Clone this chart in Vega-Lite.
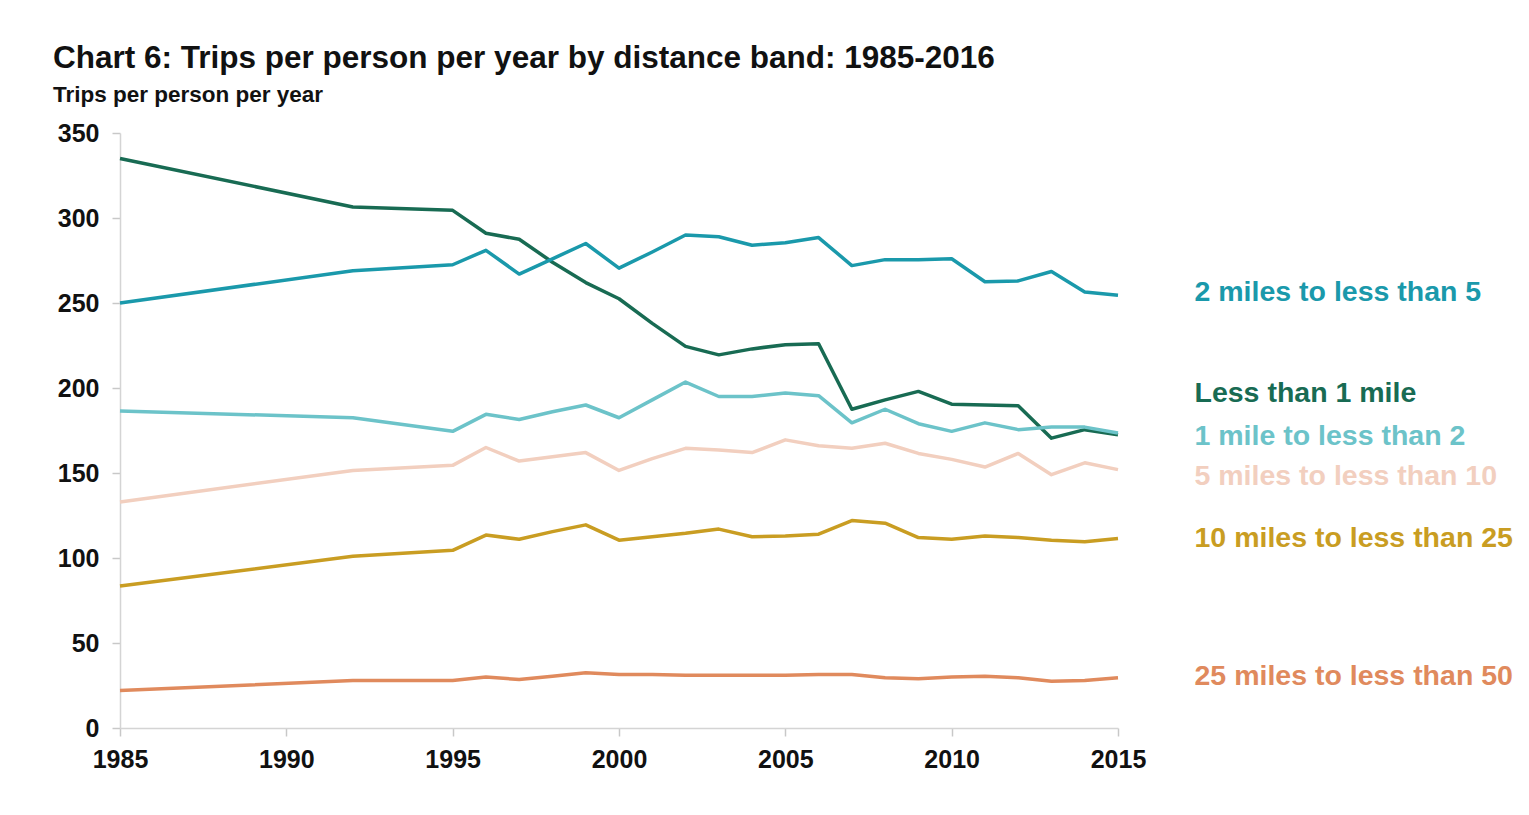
{
  "$schema": "https://vega.github.io/schema/vega-lite/v6.json",
  "autosize": {"type": "none"},
  "width": 998,
  "height": 595,
  "padding": {"left": 120, "top": 133, "right": 411, "bottom": 87},
  "background": "white",
  "title": {
    "text": "Chart 6: Trips per person per year by distance band: 1985-2016",
    "subtitle": "Trips per person per year",
    "anchor": "start",
    "frame": "group",
    "dx": -67,
    "offset": 15,
    "font": "Liberation Sans",
    "fontSize": 31.5,
    "fontWeight": "bold",
    "color": "#111111",
    "subtitleFont": "Liberation Sans",
    "subtitleFontSize": 22.5,
    "subtitleFontWeight": "bold",
    "subtitleColor": "#111111",
    "subtitlePadding": 9
  },
  "datasets": {
    "trips": [
      {"year": 1985, "band": "Less than 1 mile", "trips": 335},
      {"year": 1992, "band": "Less than 1 mile", "trips": 306.5},
      {"year": 1995, "band": "Less than 1 mile", "trips": 304.5},
      {"year": 1996, "band": "Less than 1 mile", "trips": 291},
      {"year": 1997, "band": "Less than 1 mile", "trips": 287.5},
      {"year": 1998, "band": "Less than 1 mile", "trips": 274},
      {"year": 1999, "band": "Less than 1 mile", "trips": 262},
      {"year": 2000, "band": "Less than 1 mile", "trips": 252.5},
      {"year": 2001, "band": "Less than 1 mile", "trips": 238},
      {"year": 2002, "band": "Less than 1 mile", "trips": 224.5},
      {"year": 2003, "band": "Less than 1 mile", "trips": 219.5},
      {"year": 2004, "band": "Less than 1 mile", "trips": 223},
      {"year": 2005, "band": "Less than 1 mile", "trips": 225.5},
      {"year": 2006, "band": "Less than 1 mile", "trips": 226},
      {"year": 2007, "band": "Less than 1 mile", "trips": 187.5},
      {"year": 2008, "band": "Less than 1 mile", "trips": 193},
      {"year": 2009, "band": "Less than 1 mile", "trips": 198},
      {"year": 2010, "band": "Less than 1 mile", "trips": 190.5},
      {"year": 2011, "band": "Less than 1 mile", "trips": 190},
      {"year": 2012, "band": "Less than 1 mile", "trips": 189.5},
      {"year": 2013, "band": "Less than 1 mile", "trips": 170.5},
      {"year": 2014, "band": "Less than 1 mile", "trips": 175.5},
      {"year": 2015, "band": "Less than 1 mile", "trips": 172.5},

      {"year": 1985, "band": "2 miles to less than 5", "trips": 250},
      {"year": 1992, "band": "2 miles to less than 5", "trips": 269},
      {"year": 1995, "band": "2 miles to less than 5", "trips": 272.5},
      {"year": 1996, "band": "2 miles to less than 5", "trips": 281},
      {"year": 1997, "band": "2 miles to less than 5", "trips": 267},
      {"year": 1998, "band": "2 miles to less than 5", "trips": 276},
      {"year": 1999, "band": "2 miles to less than 5", "trips": 285},
      {"year": 2000, "band": "2 miles to less than 5", "trips": 270.5},
      {"year": 2001, "band": "2 miles to less than 5", "trips": 280},
      {"year": 2002, "band": "2 miles to less than 5", "trips": 290},
      {"year": 2003, "band": "2 miles to less than 5", "trips": 289},
      {"year": 2004, "band": "2 miles to less than 5", "trips": 284},
      {"year": 2005, "band": "2 miles to less than 5", "trips": 285.5},
      {"year": 2006, "band": "2 miles to less than 5", "trips": 288.5},
      {"year": 2007, "band": "2 miles to less than 5", "trips": 272},
      {"year": 2008, "band": "2 miles to less than 5", "trips": 275.5},
      {"year": 2009, "band": "2 miles to less than 5", "trips": 275.5},
      {"year": 2010, "band": "2 miles to less than 5", "trips": 276},
      {"year": 2011, "band": "2 miles to less than 5", "trips": 262.5},
      {"year": 2012, "band": "2 miles to less than 5", "trips": 263},
      {"year": 2013, "band": "2 miles to less than 5", "trips": 268.5},
      {"year": 2014, "band": "2 miles to less than 5", "trips": 256.5},
      {"year": 2015, "band": "2 miles to less than 5", "trips": 254.5},

      {"year": 1985, "band": "1 mile to less than 2", "trips": 186.5},
      {"year": 1992, "band": "1 mile to less than 2", "trips": 182.5},
      {"year": 1995, "band": "1 mile to less than 2", "trips": 174.5},
      {"year": 1996, "band": "1 mile to less than 2", "trips": 184.5},
      {"year": 1997, "band": "1 mile to less than 2", "trips": 181.5},
      {"year": 1998, "band": "1 mile to less than 2", "trips": 186},
      {"year": 1999, "band": "1 mile to less than 2", "trips": 190},
      {"year": 2000, "band": "1 mile to less than 2", "trips": 182.5},
      {"year": 2001, "band": "1 mile to less than 2", "trips": 193},
      {"year": 2002, "band": "1 mile to less than 2", "trips": 203.5},
      {"year": 2003, "band": "1 mile to less than 2", "trips": 195},
      {"year": 2004, "band": "1 mile to less than 2", "trips": 195},
      {"year": 2005, "band": "1 mile to less than 2", "trips": 197},
      {"year": 2006, "band": "1 mile to less than 2", "trips": 195.5},
      {"year": 2007, "band": "1 mile to less than 2", "trips": 179.5},
      {"year": 2008, "band": "1 mile to less than 2", "trips": 187.5},
      {"year": 2009, "band": "1 mile to less than 2", "trips": 179},
      {"year": 2010, "band": "1 mile to less than 2", "trips": 174.5},
      {"year": 2011, "band": "1 mile to less than 2", "trips": 179.5},
      {"year": 2012, "band": "1 mile to less than 2", "trips": 175.5},
      {"year": 2013, "band": "1 mile to less than 2", "trips": 177},
      {"year": 2014, "band": "1 mile to less than 2", "trips": 177},
      {"year": 2015, "band": "1 mile to less than 2", "trips": 173.5},

      {"year": 1985, "band": "5 miles to less than 10", "trips": 133},
      {"year": 1992, "band": "5 miles to less than 10", "trips": 151.5},
      {"year": 1995, "band": "5 miles to less than 10", "trips": 154.5},
      {"year": 1996, "band": "5 miles to less than 10", "trips": 165},
      {"year": 1997, "band": "5 miles to less than 10", "trips": 157},
      {"year": 1998, "band": "5 miles to less than 10", "trips": 159.5},
      {"year": 1999, "band": "5 miles to less than 10", "trips": 162},
      {"year": 2000, "band": "5 miles to less than 10", "trips": 151.5},
      {"year": 2001, "band": "5 miles to less than 10", "trips": 158.5},
      {"year": 2002, "band": "5 miles to less than 10", "trips": 164.5},
      {"year": 2003, "band": "5 miles to less than 10", "trips": 163.5},
      {"year": 2004, "band": "5 miles to less than 10", "trips": 162},
      {"year": 2005, "band": "5 miles to less than 10", "trips": 169.5},
      {"year": 2006, "band": "5 miles to less than 10", "trips": 166},
      {"year": 2007, "band": "5 miles to less than 10", "trips": 164.5},
      {"year": 2008, "band": "5 miles to less than 10", "trips": 167.5},
      {"year": 2009, "band": "5 miles to less than 10", "trips": 161.5},
      {"year": 2010, "band": "5 miles to less than 10", "trips": 158},
      {"year": 2011, "band": "5 miles to less than 10", "trips": 153.5},
      {"year": 2012, "band": "5 miles to less than 10", "trips": 161.5},
      {"year": 2013, "band": "5 miles to less than 10", "trips": 149},
      {"year": 2014, "band": "5 miles to less than 10", "trips": 156},
      {"year": 2015, "band": "5 miles to less than 10", "trips": 152},

      {"year": 1985, "band": "10 miles to less than 25", "trips": 83.5},
      {"year": 1992, "band": "10 miles to less than 25", "trips": 101},
      {"year": 1995, "band": "10 miles to less than 25", "trips": 104.5},
      {"year": 1996, "band": "10 miles to less than 25", "trips": 113.5},
      {"year": 1997, "band": "10 miles to less than 25", "trips": 111},
      {"year": 1998, "band": "10 miles to less than 25", "trips": 115.5},
      {"year": 1999, "band": "10 miles to less than 25", "trips": 119.5},
      {"year": 2000, "band": "10 miles to less than 25", "trips": 110.5},
      {"year": 2001, "band": "10 miles to less than 25", "trips": 112.5},
      {"year": 2002, "band": "10 miles to less than 25", "trips": 114.5},
      {"year": 2003, "band": "10 miles to less than 25", "trips": 117},
      {"year": 2004, "band": "10 miles to less than 25", "trips": 112.5},
      {"year": 2005, "band": "10 miles to less than 25", "trips": 113},
      {"year": 2006, "band": "10 miles to less than 25", "trips": 114},
      {"year": 2007, "band": "10 miles to less than 25", "trips": 122},
      {"year": 2008, "band": "10 miles to less than 25", "trips": 120.5},
      {"year": 2009, "band": "10 miles to less than 25", "trips": 112},
      {"year": 2010, "band": "10 miles to less than 25", "trips": 111},
      {"year": 2011, "band": "10 miles to less than 25", "trips": 113},
      {"year": 2012, "band": "10 miles to less than 25", "trips": 112},
      {"year": 2013, "band": "10 miles to less than 25", "trips": 110.5},
      {"year": 2014, "band": "10 miles to less than 25", "trips": 109.5},
      {"year": 2015, "band": "10 miles to less than 25", "trips": 111.5},

      {"year": 1985, "band": "25 miles to less than 50", "trips": 22},
      {"year": 1992, "band": "25 miles to less than 50", "trips": 28},
      {"year": 1995, "band": "25 miles to less than 50", "trips": 28},
      {"year": 1996, "band": "25 miles to less than 50", "trips": 30},
      {"year": 1997, "band": "25 miles to less than 50", "trips": 28.5},
      {"year": 1998, "band": "25 miles to less than 50", "trips": 30.5},
      {"year": 1999, "band": "25 miles to less than 50", "trips": 32.5},
      {"year": 2000, "band": "25 miles to less than 50", "trips": 31.5},
      {"year": 2001, "band": "25 miles to less than 50", "trips": 31.5},
      {"year": 2002, "band": "25 miles to less than 50", "trips": 31},
      {"year": 2003, "band": "25 miles to less than 50", "trips": 31},
      {"year": 2004, "band": "25 miles to less than 50", "trips": 31},
      {"year": 2005, "band": "25 miles to less than 50", "trips": 31},
      {"year": 2006, "band": "25 miles to less than 50", "trips": 31.5},
      {"year": 2007, "band": "25 miles to less than 50", "trips": 31.5},
      {"year": 2008, "band": "25 miles to less than 50", "trips": 29.5},
      {"year": 2009, "band": "25 miles to less than 50", "trips": 29},
      {"year": 2010, "band": "25 miles to less than 50", "trips": 30},
      {"year": 2011, "band": "25 miles to less than 50", "trips": 30.5},
      {"year": 2012, "band": "25 miles to less than 50", "trips": 29.5},
      {"year": 2013, "band": "25 miles to less than 50", "trips": 27.5},
      {"year": 2014, "band": "25 miles to less than 50", "trips": 28},
      {"year": 2015, "band": "25 miles to less than 50", "trips": 29.5}
    ],
    "labels": [
      {"band": "2 miles to less than 5", "year": 2017.3, "trips": 256.5},
      {"band": "Less than 1 mile", "year": 2017.3, "trips": 197},
      {"band": "1 mile to less than 2", "year": 2017.3, "trips": 172},
      {"band": "5 miles to less than 10", "year": 2017.3, "trips": 148.2},
      {"band": "10 miles to less than 25", "year": 2017.3, "trips": 111.8},
      {"band": "25 miles to less than 50", "year": 2017.3, "trips": 30.6}
    ]
  },
  "encoding": {
    "x": {
      "field": "year",
      "type": "quantitative",
      "scale": {"domain": [1985, 2015], "nice": false, "zero": false},
      "axis": {
        "title": null,
        "values": [1985, 1990, 1995, 2000, 2005, 2010, 2015],
        "format": "d",
        "grid": false,
        "labelFlush": false,
        "labelPadding": 11
      }
    },
    "y": {
      "field": "trips",
      "type": "quantitative",
      "scale": {"domain": [0, 350], "nice": false},
      "axis": {
        "title": null,
        "values": [0, 50, 100, 150, 200, 250, 300, 350],
        "grid": false,
        "labelPadding": 13
      }
    },
    "color": {
      "field": "band",
      "type": "nominal",
      "legend": null,
      "scale": {
        "domain": [
          "Less than 1 mile",
          "1 mile to less than 2",
          "2 miles to less than 5",
          "5 miles to less than 10",
          "10 miles to less than 25",
          "25 miles to less than 50"
        ],
        "range": ["#186b53", "#6cc3c9", "#1a99ab", "#f2cfbf", "#c99d22", "#e08a5d"]
      }
    }
  },
  "layer": [
    {
      "data": {"name": "trips"},
      "mark": {"type": "line", "strokeWidth": 3.5, "strokeJoin": "round"}
    },
    {
      "data": {"name": "labels"},
      "mark": {
        "type": "text",
        "align": "left",
        "baseline": "middle",
        "font": "Liberation Sans",
        "fontSize": 28.5,
        "fontWeight": "bold",
        "clip": false
      },
      "encoding": {"text": {"field": "band"}}
    }
  ],
  "config": {
    "view": {"stroke": null},
    "axis": {
      "domainColor": "#d4d4d4",
      "domainWidth": 1.5,
      "tickColor": "#c8c8c8",
      "tickWidth": 1.5,
      "tickSize": 8,
      "labelFont": "Liberation Sans",
      "labelFontSize": 25,
      "labelFontWeight": "bold",
      "labelColor": "#111111"
    }
  }
}
